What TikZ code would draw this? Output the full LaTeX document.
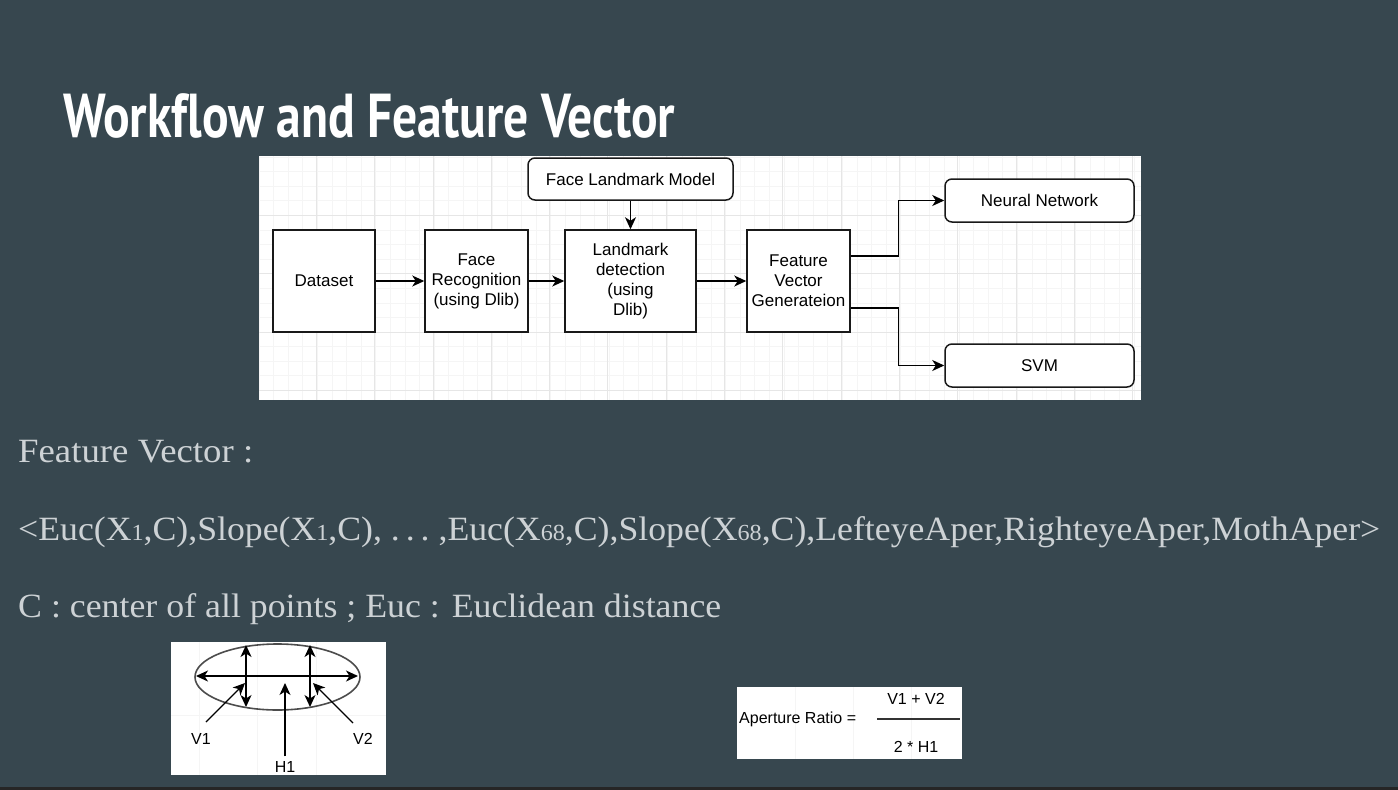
\documentclass[tikz,border=0pt]{standalone}
\usepackage{fontspec}
\usepackage{graphicx}
\setmainfont{Liberation Serif}
\newfontfamily\titlefont[Ligatures=NoCommon]{PT Sans}
\newfontfamily\diafont{Liberation Sans}
\usetikzlibrary{arrows.meta,calc,shapes.geometric}
\definecolor{slidebg}{HTML}{37474F}
\definecolor{bodytext}{HTML}{CDD2D5}
\definecolor{gridmajor}{HTML}{E6E6E6}
\definecolor{gridminor}{HTML}{F5F5F5}
\tikzset{
  flowbox/.style={draw=black!90,line width=1.5pt,fill=white,font=\diafont\fontsize{17}{20}\selectfont,align=center,inner sep=0pt},
  roundbox/.style={flowbox,rounded corners=7pt},
  tip/.tip={Stealth[length=12pt,width=11pt,inset=3.5pt]},
  arr/.style={line width=1.4pt,-tip},
  darr/.style={line width=1.6pt,tip-tip},
  bodyline/.style={anchor=base west,text=bodytext,inner sep=0pt,font=\fontsize{34}{40}\selectfont},
  small/.style={font=\diafont\fontsize{16}{18}\selectfont,inner sep=0pt},
}
\newcommand{\sbx}[1]{{\fontsize{23}{25}\selectfont #1}}
\begin{document}
\begin{tikzpicture}[x=1pt,y=-1pt]
\useasboundingbox (0,0) rectangle (1398,790);
\fill[slidebg] (0,0) rectangle (1398,790);
\fill[black!85] (0,787) rectangle (1398,790);
% title
\node[anchor=base west,text=white,inner sep=0pt] (title) at (63,137)
  {\resizebox{612pt}{\height}{\titlefont\bfseries\fontsize{62}{70}\selectfont Workf{}low and Feature Vector}};
% diagram canvas
\fill[white] (259,156) rectangle (1141,400);
\begin{scope}
\clip (259,156) rectangle (1141,400);
\foreach \i in {0,...,61} {\draw[gridminor,line width=0.5pt] ({259+14.58*\i},156) -- ({259+14.58*\i},400);}
\foreach \i in {0,...,17} {\draw[gridminor,line width=0.5pt] (259,{157+14.58*\i}) -- (1141,{157+14.58*\i});}
\foreach \i in {1,...,15} {\draw[gridmajor,line width=0.7pt] ({258+58.3*\i},156) -- ({258+58.3*\i},400);}
\foreach \i in {1,...,4} {\draw[gridmajor,line width=0.7pt] (259,{157+58.3*\i}) -- (1141,{157+58.3*\i});}
\end{scope}
\node[flowbox,minimum width=102pt,minimum height=102pt] (ds) at (324,281) {Dataset};
\node[flowbox,minimum width=103pt,minimum height=102pt] (fr) at (476.5,281) {Face\\Recognition\\(using Dlib)};
\node[flowbox,minimum width=131pt,minimum height=102pt] (ld) at (630.5,281) {Landmark\\detection\\(using\\Dlib)};
\node[roundbox,minimum width=205pt,minimum height=42pt] (flm) at (630.5,179) {Face Landmark Model};
\node[flowbox,minimum width=103pt,minimum height=102pt] (fv) at (798.5,281) {Feature\\Vector\\Generateion};
\node[roundbox,minimum width=189pt,minimum height=43pt] (nn) at (1039.5,200.5) {Neural Network};
\node[roundbox,minimum width=189pt,minimum height=43pt] (svm) at (1039.5,365.5) {SVM};
\draw[arr] (ds.east) -- (fr.west);
\draw[arr] (fr.east) -- (ld.west);
\draw[arr] (ld.east) -- (fv.west);
\draw[arr] (flm.south) -- (ld.north);
\draw[arr] ([yshift=25pt]fv.east) -- ++(48,0) |- (nn.west);
\draw[arr] ([yshift=-27pt]fv.east) -- ++(48,0) |- (svm.west);
% body text
\node[bodyline] (fvlabel) at (18,462) {\resizebox{235pt}{\height}{Feature Vector :}};
\node[bodyline] (fvec) at (18,540) {\resizebox{1362pt}{\height}{<Euc(X\sbx{1},C),Slope(X\sbx{1},C), .\,.\,.\ ,Euc(X\sbx{68},C),Slope(X\sbx{68},C),LefteyeAper,RighteyeAper,MothAper>}};
\node[bodyline] (cdef) at (18,617) {\resizebox{703pt}{\height}{C : center of all points ; Euc : Euclidean distance}};
% eye figure
\fill[white] (171,642) rectangle (386,775);
\begin{scope}
\clip (171,642) rectangle (386,775);
\foreach \i in {1,2,3} {\draw[gridminor,line width=0.6pt] ({171+58.3*\i-30},642) -- ({171+58.3*\i-30},775);}
\draw[gridminor,line width=0.6pt] (171,715) -- (386,715);
\end{scope}
\node[draw=black!70,line width=1.6pt,ellipse,minimum width=165pt,minimum height=66pt,inner sep=0pt] (eye) at (277.5,677) {};
\coordinate (hl) at (196,676); \coordinate (hr) at (358,676);
\coordinate (v1t) at (246,645); \coordinate (v1b) at (246,707);
\coordinate (v2t) at (310,645); \coordinate (v2b) at (310,707);
\draw[darr] (hl) -- (hr);
\draw[darr] (v1t) -- (v1b);
\draw[darr] (v2t) -- (v2b);
\node[small] (lv1) at (201,739) {V1};
\node[small] (lv2) at (363,739) {V2};
\node[small] (lh1) at (285,767) {H1};
\coordinate (p1) at (245,683); \coordinate (p2) at (313,683); \coordinate (p3) at (285,683);
\draw[line width=1.1pt,-tip] (206,722) -- (p1);
\draw[line width=1.1pt,-tip] (353,723) -- (p2);
\draw[line width=1.1pt,-tip] (lh1.north) ++(0,-5) -- (p3);
% aperture ratio
\fill[white] (737,687) rectangle (962,759);
\draw[gridminor,line width=0.6pt] (795,687) -- (795,759) (853,687) -- (853,759) (911,687) -- (911,759);
\node[small,anchor=west,font=\diafont\fontsize{16}{18}\selectfont] (ar) at (739,719) {Aperture Ratio =};
\coordinate (fl) at (877,719); \coordinate (fr2) at (960,719);
\draw[line width=1.3pt,black!80] (fl) -- (fr2);
\node[small,font=\diafont\fontsize{16}{18}\selectfont] (num) at (916,699) {V1 + V2};
\node[small,font=\diafont\fontsize{16}{18}\selectfont] (den) at (916,747) {2 * H1};
\end{tikzpicture}
\end{document}
